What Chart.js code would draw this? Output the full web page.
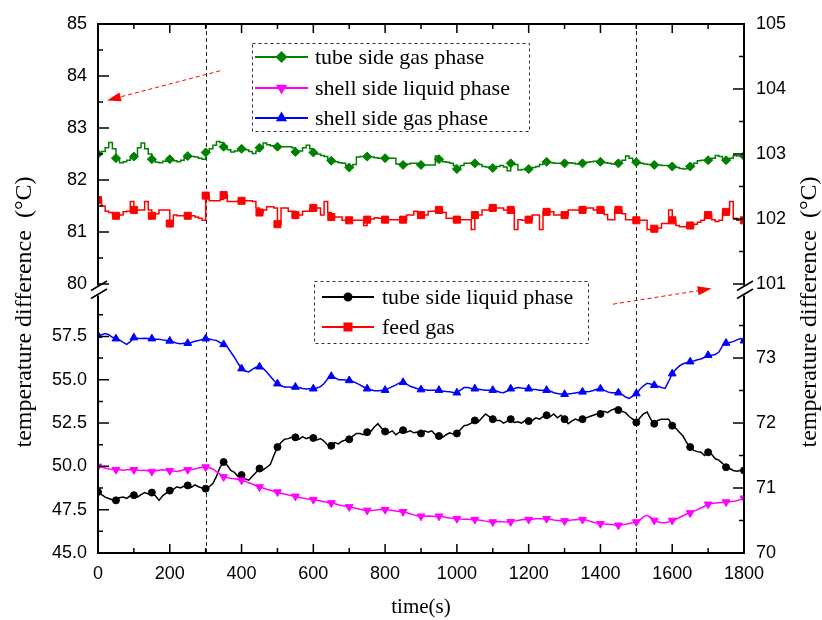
<!DOCTYPE html>
<html>
<head>
<meta charset="utf-8">
<title>temperature difference</title>
<script src="https://cdn.jsdelivr.net/npm/chart.js@4.4.1/dist/chart.umd.min.js"></script>
<style>
  html, body { margin: 0; padding: 0; background: #fff; }
  canvas { display: block; }
</style>
</head>
<body>
<canvas id="chart" width="822" height="620"></canvas>
<script>
// sampling times (s)
const time = [
  0, 10, 20, 30, 40, 50, 60, 70, 80, 90,
  100, 110, 120, 130, 140, 150, 160, 170, 180, 190,
  200, 210, 220, 230, 240, 250, 260, 270, 280, 290,
  300, 310, 320, 330, 340, 350, 360, 370, 380, 390,
  400, 410, 420, 430, 440, 450, 460, 470, 480, 490,
  500, 510, 520, 530, 540, 550, 560, 570, 580, 590,
  600, 610, 620, 630, 640, 650, 660, 670, 680, 690,
  700, 710, 720, 730, 740, 750, 760, 770, 780, 790,
  800, 810, 820, 830, 840, 850, 860, 870, 880, 890,
  900, 910, 920, 930, 940, 950, 960, 970, 980, 990,
  1000, 1010, 1020, 1030, 1040, 1050, 1060, 1070, 1080, 1090,
  1100, 1110, 1120, 1130, 1140, 1150, 1160, 1170, 1180, 1190,
  1200, 1210, 1220, 1230, 1240, 1250, 1260, 1270, 1280, 1290,
  1300, 1310, 1320, 1330, 1340, 1350, 1360, 1370, 1380, 1390,
  1400, 1410, 1420, 1430, 1440, 1450, 1460, 1470, 1480, 1490,
  1500, 1510, 1520, 1530, 1540, 1550, 1560, 1570, 1580, 1590,
  1600, 1610, 1620, 1630, 1640, 1650, 1660, 1670, 1680, 1690,
  1700, 1710, 1720, 1730, 1740, 1750, 1760, 1770, 1780, 1790,
  1800
];

// tube side gas phase (left axis, upper panel)
const tubeGas = [
  82.50, 82.55, 82.62, 82.72, 82.60, 82.42, 82.33, 82.35, 82.38, 82.42,
  82.45, 82.62, 82.71, 82.60, 82.50, 82.40, 82.34, 82.33, 82.36, 82.38,
  82.40, 82.37, 82.35, 82.38, 82.43, 82.46, 82.45, 82.44, 82.42, 82.40,
  82.53, 82.60, 82.67, 82.74, 82.72, 82.64, 82.58, 82.54, 82.56, 82.58,
  82.60, 82.58, 82.55, 82.51, 82.56, 82.62, 82.71, 82.68, 82.66, 82.64,
  82.64, 82.64, 82.64, 82.64, 82.62, 82.54, 82.56, 82.62, 82.67, 82.60,
  82.53, 82.50, 82.47, 82.45, 82.40, 82.37, 82.35, 82.33, 82.32, 82.28,
  82.24, 82.30, 82.44, 82.45, 82.45, 82.45, 82.44, 82.43, 82.42, 82.42,
  82.42, 82.42, 82.42, 82.31, 82.30, 82.29, 82.31, 82.32, 82.32, 82.29,
  82.29, 82.29, 82.29, 82.29, 82.46, 82.40, 82.35, 82.34, 82.32, 82.28,
  82.21, 82.28, 82.32, 82.32, 82.32, 82.32, 82.30, 82.26, 82.25, 82.24,
  82.23, 82.26, 82.28, 82.25, 82.18, 82.32, 82.30, 82.19, 82.20, 82.21,
  82.21, 82.24, 82.26, 82.30, 82.35, 82.35, 82.33, 82.32, 82.32, 82.32,
  82.32, 82.33, 82.32, 82.31, 82.32, 82.32, 82.34, 82.35, 82.36, 82.35,
  82.35, 82.33, 82.32, 82.31, 82.32, 82.32, 82.38, 82.46, 82.42, 82.37,
  82.34, 82.32, 82.31, 82.30, 82.29, 82.29, 82.29, 82.28, 82.28, 82.27,
  82.26, 82.24, 82.22, 82.21, 82.22, 82.26, 82.32, 82.37, 82.38, 82.38,
  82.38, 82.42, 82.47, 82.45, 82.41, 82.38, 82.42, 82.47, 82.46, 82.46,
  82.46
];

// feed gas (right axis, upper panel)
const feedGas = [
  102.29, 102.20, 102.12, 102.10, 102.08, 102.05, 102.06, 102.11, 102.12, 102.27,
  102.14, 102.14, 102.14, 102.27, 102.14, 102.05, 102.08, 102.14, 102.14, 102.14,
  101.93, 102.06, 102.05, 102.05, 102.05, 102.05, 102.05, 102.03, 102.01, 101.98,
  102.36, 102.28, 102.28, 102.28, 102.30, 102.37, 102.27, 102.27, 102.27, 102.28,
  102.28, 102.28, 102.28, 102.27, 102.17, 102.10, 102.14, 102.19, 102.19, 102.17,
  101.92, 102.17, 102.17, 102.12, 102.12, 102.06, 102.06, 102.12, 102.12, 102.15,
  102.17, 102.17, 102.06, 102.27, 102.10, 102.03, 102.03, 102.03, 101.98, 101.98,
  101.98, 101.98, 101.98, 101.98, 101.90, 101.99, 102.00, 102.02, 102.01, 101.99,
  101.99, 101.99, 101.99, 101.99, 101.99, 101.99, 102.06, 102.06, 102.12, 102.10,
  102.06, 102.06, 102.12, 102.12, 102.14, 102.14, 102.10, 102.01, 102.01, 101.99,
  101.99, 101.99, 101.99, 101.99, 101.84, 102.06, 102.06, 102.14, 102.14, 102.17,
  102.17, 102.17, 102.17, 102.14, 102.14, 102.14, 101.84, 101.99, 101.98, 101.98,
  101.99, 102.06, 102.06, 101.84, 102.11, 102.11, 102.11, 102.06, 102.06, 102.06,
  102.06, 102.14, 102.14, 102.14, 102.14, 102.14, 102.17, 102.17, 102.14, 102.14,
  102.14, 102.07, 101.99, 101.99, 102.14, 102.14, 102.08, 101.99, 101.99, 101.98,
  101.98, 101.98, 101.98, 101.84, 101.85, 101.85, 101.86, 101.93, 101.93, 102.14,
  101.98, 101.90, 101.88, 101.88, 101.90, 101.90, 101.92, 101.95, 101.98, 102.06,
  102.06, 101.99, 101.96, 101.98, 102.12, 102.11, 102.27, 102.01, 101.98, 101.98,
  101.98
];

// shell side gas phase (left axis, lower panel)
const shellGas = [
  57.56, 57.60, 57.66, 57.60, 57.45, 57.37, 57.30, 57.15, 57.04, 57.20,
  57.43, 57.40, 57.38, 57.40, 57.38, 57.37, 57.34, 57.33, 57.30, 57.27,
  57.24, 57.18, 57.10, 57.08, 57.10, 57.11, 57.15, 57.22, 57.27, 57.33,
  57.37, 57.35, 57.30, 57.27, 57.15, 57.04, 56.90, 56.60, 56.30, 55.95,
  55.64, 55.50, 55.45, 55.60, 55.72, 55.75, 55.65, 55.45, 55.20, 54.95,
  54.77, 54.65, 54.58, 54.58, 54.56, 54.58, 54.55, 54.50, 54.46, 54.48,
  54.48, 54.52, 54.60, 54.78, 55.05, 55.20, 55.12, 55.00, 55.00, 54.98,
  54.96, 54.90, 54.80, 54.70, 54.58, 54.48, 54.42, 54.36, 54.36, 54.38,
  54.40, 54.50, 54.60, 54.70, 54.82, 54.85, 54.75, 54.62, 54.55, 54.48,
  54.43, 54.42, 54.40, 54.40, 54.40, 54.40, 54.35, 54.32, 54.30, 54.27,
  54.25, 54.40, 54.55, 54.55, 54.50, 54.48, 54.45, 54.42, 54.40, 54.40,
  54.40, 54.35, 54.28, 54.25, 54.35, 54.48, 54.50, 54.55, 54.52, 54.50,
  54.48, 54.45, 54.43, 54.40, 54.40, 54.40, 54.35, 54.25, 54.20, 54.18,
  54.16, 54.18, 54.20, 54.24, 54.28, 54.30, 54.30, 54.32, 54.38, 54.45,
  54.48, 54.40, 54.30, 54.25, 54.25, 54.25, 54.15, 54.00, 53.92, 54.05,
  54.20, 54.45, 54.65, 54.80, 54.75, 54.68, 54.62, 54.55, 54.50, 54.90,
  55.35, 55.60, 55.80, 55.92, 55.98, 56.04, 56.08, 56.15, 56.20, 56.30,
  56.41, 56.42, 56.45, 56.60, 56.95, 57.12, 57.15, 57.20, 57.30, 57.38,
  57.25
];

// shell side liquid phase (left axis, lower panel)
const shellLiquid = [
  50.00, 49.95, 49.90, 49.85, 49.83, 49.81, 49.80, 49.78, 49.80, 49.82,
  49.80, 49.78, 49.76, 49.78, 49.73, 49.70, 49.74, 49.78, 49.80, 49.77,
  49.75, 49.73, 49.70, 49.75, 49.80, 49.80, 49.82, 49.85, 49.90, 49.95,
  49.96, 49.92, 49.85, 49.70, 49.55, 49.39, 49.35, 49.30, 49.28, 49.24,
  49.20, 49.15, 49.05, 48.98, 48.88, 48.81, 48.75, 48.68, 48.62, 48.56,
  48.52, 48.45, 48.40, 48.35, 48.30, 48.27, 48.22, 48.17, 48.13, 48.10,
  48.08, 48.04, 48.00, 47.96, 47.92, 47.89, 47.84, 47.78, 47.73, 47.70,
  47.66, 47.62, 47.57, 47.52, 47.48, 47.46, 47.46, 47.47, 47.50, 47.52,
  47.50, 47.48, 47.45, 47.42, 47.40, 47.38, 47.32, 47.26, 47.20, 47.15,
  47.12, 47.12, 47.14, 47.12, 47.10, 47.12, 47.10, 47.05, 47.02, 47.00,
  46.98, 46.96, 46.95, 46.95, 46.93, 46.93, 46.90, 46.87, 46.84, 46.80,
  46.79, 46.80, 46.82, 46.80, 46.79, 46.80, 46.84, 46.88, 46.92, 46.94,
  46.93, 46.95, 46.97, 46.98, 46.98, 46.98, 46.95, 46.90, 46.88, 46.86,
  46.85, 46.87, 46.90, 46.92, 46.93, 46.93, 46.90, 46.84, 46.78, 46.72,
  46.69, 46.68, 46.66, 46.64, 46.62, 46.60, 46.63, 46.66, 46.70, 46.74,
  46.79, 46.90, 47.10, 47.17, 47.05, 46.88, 46.80, 46.75, 46.74, 46.80,
  46.88, 46.95, 47.05, 47.15, 47.25, 47.31, 47.40, 47.50, 47.60, 47.70,
  47.81, 47.85, 47.88, 47.90, 47.92, 47.94, 47.96, 47.98, 48.02, 48.08,
  48.16
];

// tube side liquid phase (right axis, lower panel)
const tubeLiquid = [
  70.94, 70.90, 70.86, 70.84, 70.82, 70.81, 70.85, 70.86, 70.84, 70.88,
  70.89, 70.86, 70.90, 70.93, 70.91, 70.93, 70.88, 70.81, 70.88, 70.92,
  70.96, 70.98, 71.02, 71.00, 71.03, 71.04, 71.01, 71.05, 71.02, 71.00,
  70.99, 71.02, 71.07, 71.18, 71.32, 71.40, 71.35, 71.27, 71.24, 71.18,
  71.20, 71.14, 71.12, 71.18, 71.24, 71.30, 71.28, 71.32, 71.36, 71.50,
  71.63, 71.70, 71.75, 71.76, 71.78, 71.78, 71.75, 71.79, 71.76, 71.78,
  71.77, 71.74, 71.76, 71.72, 71.66, 71.65, 71.70, 71.68, 71.72, 71.74,
  71.75, 71.80, 71.84, 71.84, 71.82, 71.86, 71.87, 71.94, 71.99, 71.92,
  71.87, 71.85, 71.88, 71.82, 71.86, 71.89, 71.86, 71.88, 71.85, 71.86,
  71.84, 71.88, 71.86, 71.88, 71.82, 71.80, 71.78, 71.82, 71.85, 71.83,
  71.84, 71.90, 71.96, 71.97, 72.00, 72.04, 72.02, 72.08, 72.14, 72.10,
  72.06, 72.04, 72.04, 72.00, 72.03, 72.06, 72.01, 72.02, 72.00, 72.04,
  72.03, 72.04, 72.08, 72.06, 72.10, 72.12, 72.10, 72.14, 72.08, 72.12,
  72.06, 71.99, 72.03, 72.06, 72.04, 72.06, 72.08, 72.10, 72.12, 72.14,
  72.14, 72.18, 72.16, 72.20, 72.22, 72.20, 72.18, 72.16, 72.10, 72.06,
  72.01, 72.08, 72.14, 72.17, 72.06, 71.99, 72.04, 72.06, 72.06, 72.06,
  71.96, 71.92, 71.86, 71.80, 71.70, 71.63, 71.58, 71.56, 71.55, 71.50,
  71.55, 71.52, 71.45, 71.43, 71.38, 71.32, 71.30, 71.27, 71.26, 71.27,
  71.27
];

// tick labels
const leftTopTicks = [80, 81, 82, 83, 84, 85];
const leftBottomTicks = [45, 47.5, 50, 52.5, 55, 57.5];
const rightTopTicks = [101, 102, 103, 104, 105];
const rightBottomTicks = [70, 71, 72, 73];
const markerTimes = [300, 1500];

const serif = '"Liberation Serif", "Times New Roman", serif';
const sans = '"Liberation Sans", Arial, sans-serif';

function series(label, values, color, axis, style, radius, extra) {
  return Object.assign({
    label: label,
    data: values.map((v, i) => ({ x: time[i], y: v })),
    yAxisID: axis,
    borderColor: color,
    backgroundColor: color,
    borderWidth: 1.5,
    pointStyle: style,
    pointRadius: c => (c.index % 5 === 0 ? radius : 0),
    pointHoverRadius: 0,
    pointBorderWidth: 1,
    legendRadius: radius
  }, extra || {});
}

const datasets = [
  series('tube side gas phase', tubeGas, '#008000', 'yTL', 'rectRot', 4.5, { stepped: true }),
  series('shell side liquid phase', shellLiquid, '#ff00ff', 'yBL', 'triangle', 4.5, { pointRotation: 180 }),
  series('shell side gas phase', shellGas, '#0000ff', 'yBL', 'triangle', 4.5),
  series('tube side liquid phase', tubeLiquid, '#000000', 'yBR', 'circle', 3.5),
  series('feed gas', feedGas, '#ff0000', 'yTR', 'rect', 5, { stepped: true })
];

function yAxis(position, weight, stackWeight, min, max, values, fmt) {
  return {
    type: 'linear',
    position: position,
    stack: position,
    stackWeight: stackWeight,
    weight: weight,
    min: min,
    max: max,
    bounds: 'data',
    grid: { display: false, drawTicks: false },
    border: { display: false },
    ticks: {
      autoSkip: false,
      color: '#000',
      font: { family: sans, size: 18 },
      padding: position === 'left' ? 11 : 12,
      callback: fmt
    },
    afterBuildTicks: s => { s.ticks = values.map(v => ({ value: v })); },
    afterFit: s => { s.width = position === 'left' ? 98 : 78; }
  };
}

function drawArrow(ctx, x1, y1, x2, y2) {
  const ang = Math.atan2(y2 - y1, x2 - x1);
  const len = 14, half = 4.5;
  ctx.save();
  ctx.strokeStyle = '#ff0000';
  ctx.fillStyle = '#ff0000';
  ctx.lineWidth = 1;
  ctx.setLineDash([4, 3]);
  ctx.beginPath();
  ctx.moveTo(x1, y1);
  ctx.lineTo(x2 - Math.cos(ang) * len, y2 - Math.sin(ang) * len);
  ctx.stroke();
  ctx.setLineDash([]);
  ctx.beginPath();
  ctx.moveTo(x2, y2);
  ctx.lineTo(x2 - Math.cos(ang) * len - Math.sin(ang) * half, y2 - Math.sin(ang) * len + Math.cos(ang) * half);
  ctx.lineTo(x2 - Math.cos(ang) * len + Math.sin(ang) * half, y2 - Math.sin(ang) * len - Math.cos(ang) * half);
  ctx.closePath();
  ctx.fill();
  ctx.restore();
}

function drawLegend(ctx, chart, box, items, x0, x1, tx, rows) {
  ctx.save();
  ctx.strokeStyle = '#333';
  ctx.lineWidth = 1;
  ctx.setLineDash([3, 3]);
  ctx.strokeRect(box[0] + 0.5, box[1] + 0.5, box[2], box[3]);
  ctx.setLineDash([]);
  ctx.font = '22px ' + serif;
  ctx.textAlign = 'left';
  ctx.textBaseline = 'middle';
  items.forEach((idx, i) => {
    const ds = chart.data.datasets[idx];
    const y = rows[i];
    ctx.strokeStyle = ds.borderColor;
    ctx.fillStyle = ds.borderColor;
    ctx.lineWidth = 2;
    ctx.beginPath();
    ctx.moveTo(x0, y);
    ctx.lineTo(x1, y);
    ctx.stroke();
    Chart.helpers.drawPoint(ctx, {
      pointStyle: ds.pointStyle,
      rotation: ds.pointRotation || 0,
      radius: ds.legendRadius,
      borderWidth: 1
    }, (x0 + x1) / 2, y);
    ctx.fillStyle = '#000';
    ctx.fillText(ds.label, tx, y + 1);
  });
  ctx.restore();
}

const decor = {
  id: 'decor',
  beforeDatasetsDraw(chart) {
    const ctx = chart.ctx, a = chart.chartArea, x = chart.scales.x;
    ctx.save();
    ctx.strokeStyle = '#222';
    ctx.lineWidth = 1;
    ctx.setLineDash([4, 3]);
    markerTimes.forEach(t => {
      const px = Math.round(x.getPixelForValue(t)) + 0.5;
      ctx.beginPath();
      ctx.moveTo(px, a.top);
      ctx.lineTo(px, a.bottom);
      ctx.stroke();
    });
    ctx.restore();
  },
  afterDraw(chart) {
    const ctx = chart.ctx, a = chart.chartArea, s = chart.scales;
    const mid = s.yTL.bottom;
    ctx.save();

    // frame with broken side axes
    ctx.strokeStyle = '#000';
    ctx.lineWidth = 2;
    ctx.beginPath();
    ctx.moveTo(a.left - 1, a.top); ctx.lineTo(a.right + 1, a.top);
    ctx.moveTo(a.left - 1, a.bottom); ctx.lineTo(a.right + 1, a.bottom);
    [a.left, a.right].forEach(x => {
      ctx.moveTo(x, a.top); ctx.lineTo(x, mid - 5);
      ctx.moveTo(x, mid + 5); ctx.lineTo(x, a.bottom);
    });
    ctx.stroke();

    // axis break marks
    ctx.lineWidth = 1.5;
    [a.left, a.right].forEach(x => {
      ctx.beginPath();
      ctx.moveTo(x - 7, mid); ctx.lineTo(x + 9, mid - 9.5);
      ctx.moveTo(x - 7, mid + 8); ctx.lineTo(x + 9, mid - 1.5);
      ctx.stroke();
    });

    // inward ticks on the y axes
    const yTicks = (scale, x, dir, majors) => {
      const step = majors[1] - majors[0];
      ctx.beginPath();
      majors.forEach(v => {
        const y = scale.getPixelForValue(v);
        ctx.moveTo(x, y); ctx.lineTo(x + dir * 11, y);
      });
      for (let v = majors[0] + step / 2; v < scale.max; v += step) {
        const y = scale.getPixelForValue(v);
        ctx.moveTo(x, y); ctx.lineTo(x + dir * 5, y);
      }
      ctx.stroke();
    };
    ctx.lineWidth = 1.5;
    yTicks(s.yTL, a.left, 1, leftTopTicks);
    yTicks(s.yBL, a.left, 1, leftBottomTicks);
    yTicks(s.yTR, a.right, -1, rightTopTicks);
    yTicks(s.yBR, a.right, -1, rightBottomTicks);

    // inward ticks on top and bottom
    ctx.beginPath();
    for (let t = 100; t < 1800; t += 100) {
      const x = s.x.getPixelForValue(t);
      const len = t % 200 === 0 ? 9 : 5;
      ctx.moveTo(x, a.top); ctx.lineTo(x, a.top + len);
      ctx.moveTo(x, a.bottom); ctx.lineTo(x, a.bottom - len);
    }
    ctx.stroke();

    // legends
    drawLegend(ctx, chart, [252, 43, 277, 88], [0, 1, 2], 255, 308, 315, [57, 88, 118]);
    drawLegend(ctx, chart, [314, 281, 274, 62], [3, 4], 322, 374, 382, [297, 327]);

    // arrows pointing to the axes used
    drawArrow(ctx, s.x.getPixelForValue(340), s.yTL.getPixelForValue(84.1),
      s.x.getPixelForValue(25), s.yTL.getPixelForValue(83.53));
    drawArrow(ctx, s.x.getPixelForValue(1435), s.yBR.getPixelForValue(73.83),
      s.x.getPixelForValue(1710), s.yBR.getPixelForValue(74.07));

    // axis titles
    ctx.fillStyle = '#000';
    ctx.font = '24px ' + serif;
    ctx.textAlign = 'center';
    ctx.textBaseline = 'middle';
    const yTitle = 'temperature difference  (\u00B0C)';
    [25, 810].forEach(x => {
      ctx.save();
      ctx.translate(x, 312);
      ctx.rotate(-Math.PI / 2);
      ctx.fillText(yTitle, 0, 0);
      ctx.restore();
    });
    ctx.font = '21px ' + serif;
    ctx.fillText('time(s)', (a.left + a.right) / 2, 607);
    ctx.restore();
  }
};

new Chart(document.getElementById('chart'), {
  type: 'line',
  data: { datasets: datasets },
  options: {
    responsive: false,
    animation: false,
    events: [],
    layout: { padding: { top: 24, left: 0, right: 0, bottom: 0 } },
    plugins: { legend: { display: false }, tooltip: { enabled: false } },
    scales: {
      x: {
        type: 'linear',
        min: 0,
        max: 1800,
        grid: { display: false, drawTicks: false },
        border: { display: false },
        ticks: {
          stepSize: 200,
          color: '#000',
          font: { family: sans, size: 18 },
          padding: 10,
          maxRotation: 0,
          callback: v => String(v)
        },
        afterFit: s => { s.height = 67; }
      },
      yTL: yAxis('left', 1, 266.5, 79.875, 85, leftTopTicks, v => String(v)),
      yBL: yAxis('left', 0, 262.5, 45, 60.15, leftBottomTicks, v => v.toFixed(1)),
      yTR: yAxis('right', 0, 266.5, 100.9, 105, rightTopTicks, v => String(v)),
      yBR: yAxis('right', 1, 262.5, 70, 74.04, rightBottomTicks, v => String(v))
    }
  },
  plugins: [decor]
});
</script>
</body>
</html>
